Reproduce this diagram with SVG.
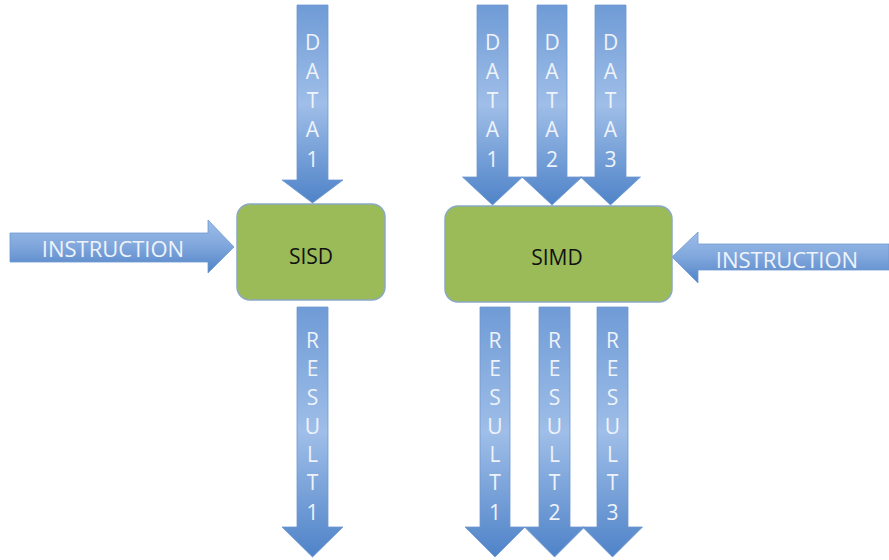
<svg xmlns="http://www.w3.org/2000/svg" width="889" height="560" viewBox="0 0 889 560">
<defs>
<linearGradient id="gv" x1="0" y1="0" x2="0" y2="1">
<stop offset="0" stop-color="#6f9bd6"/>
<stop offset="0.5" stop-color="#9fbee8"/>
<stop offset="1" stop-color="#4f83c8"/>
</linearGradient>
<linearGradient id="gh" x1="0" y1="0" x2="0" y2="1">
<stop offset="0" stop-color="#9dbde8"/>
<stop offset="0.5" stop-color="#7fa6dc"/>
<stop offset="1" stop-color="#4f82c6"/>
</linearGradient>
<style>
.av{fill:url(#gv);stroke:#6e98cf;stroke-width:0.8}
.ah{fill:url(#gh);stroke:#6e98cf;stroke-width:0.8}
.box{fill:#9bbb59;stroke:#8aa9c4;stroke-width:1.5}
.lt{font-family:"Open Sans","Liberation Sans",sans-serif;fill:#eef3fa;text-anchor:middle}
.vt{font-size:21px}
.ht{font-size:22px}
.bt{font-family:"Open Sans","Liberation Sans",sans-serif;font-size:21px;fill:#111;text-anchor:middle}
</style>
</defs>
<g id="connectors">
<path class="av" d="M297,5 H328 V180 H343 L312.5,203 L282,180 H297 Z"/>
<path class="av" d="M477,5 H508 V177 H522.5 L492.5,205 L462.5,177 H477 Z"/>
<path class="av" d="M537,5 H567 V177 H582 L552,205 L522,177 H537 Z"/>
<path class="av" d="M595,5 H626 V177 H640.5 L610.5,205 L580.5,177 H595 Z"/>
<path class="av" d="M297,307 H328 V527 H343 L312.5,557 L282,527 H297 Z"/>
<path class="av" d="M480,307 H510 V527 H525 L495,557 L465,527 H480 Z"/>
<path class="av" d="M539,307 H570 V527 H584.5 L554.5,557 L524.5,527 H539 Z"/>
<path class="av" d="M597,307 H628 V527 H642.5 L612.5,557 L582.5,527 H597 Z"/>
<path class="ah" d="M10,233 H208 V220 L234,247 L208,273 V262 H10 Z"/>
<path class="ah" d="M889,244 H698 V232 L672,257 L698,283 V270 H889 Z"/>
</g>
<g id="labels">
<text class="lt vt"><tspan x="312.5" y="50">D</tspan><tspan x="312.5" y="79">A</tspan><tspan x="312.5" y="108">T</tspan><tspan x="312.5" y="137">A</tspan><tspan x="312.5" y="167">1</tspan></text>
<text class="lt vt"><tspan x="492.5" y="50">D</tspan><tspan x="492.5" y="79">A</tspan><tspan x="492.5" y="108">T</tspan><tspan x="492.5" y="137">A</tspan><tspan x="492.5" y="167">1</tspan></text>
<text class="lt vt"><tspan x="552" y="50">D</tspan><tspan x="552" y="79">A</tspan><tspan x="552" y="108">T</tspan><tspan x="552" y="137">A</tspan><tspan x="552" y="167">2</tspan></text>
<text class="lt vt"><tspan x="610.5" y="50">D</tspan><tspan x="610.5" y="79">A</tspan><tspan x="610.5" y="108">T</tspan><tspan x="610.5" y="137">A</tspan><tspan x="610.5" y="167">3</tspan></text>
<text class="lt vt"><tspan x="312.5" y="348">R</tspan><tspan x="312.5" y="376">E</tspan><tspan x="312.5" y="405">S</tspan><tspan x="312.5" y="434">U</tspan><tspan x="312.5" y="462">L</tspan><tspan x="312.5" y="490">T</tspan><tspan x="312.5" y="520">1</tspan></text>
<text class="lt vt"><tspan x="495" y="348">R</tspan><tspan x="495" y="376">E</tspan><tspan x="495" y="405">S</tspan><tspan x="495" y="434">U</tspan><tspan x="495" y="462">L</tspan><tspan x="495" y="490">T</tspan><tspan x="495" y="520">1</tspan></text>
<text class="lt vt"><tspan x="554.5" y="348">R</tspan><tspan x="554.5" y="376">E</tspan><tspan x="554.5" y="405">S</tspan><tspan x="554.5" y="434">U</tspan><tspan x="554.5" y="462">L</tspan><tspan x="554.5" y="490">T</tspan><tspan x="554.5" y="520">2</tspan></text>
<text class="lt vt"><tspan x="612.5" y="348">R</tspan><tspan x="612.5" y="376">E</tspan><tspan x="612.5" y="405">S</tspan><tspan x="612.5" y="434">U</tspan><tspan x="612.5" y="462">L</tspan><tspan x="612.5" y="490">T</tspan><tspan x="612.5" y="520">3</tspan></text>
<text class="lt ht" x="113" y="257">INSTRUCTION</text>
<text class="lt ht" x="787" y="268">INSTRUCTION</text>
</g>
<g id="sisd">
<rect class="box" x="237" y="204" width="148" height="96" rx="13"/>
<text class="bt" x="311" y="264">SISD</text>
</g>
<g id="simd">
<rect class="box" x="445" y="206" width="227" height="96" rx="13"/>
<text class="bt" x="557" y="265">SIMD</text>
</g>
</svg>
